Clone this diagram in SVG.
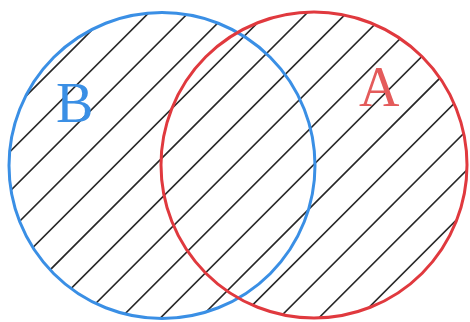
<svg xmlns="http://www.w3.org/2000/svg" width="470" height="322" viewBox="0 0 470 322">
  <style>
    .hatch line { stroke: #262626; stroke-width: 1.6; }
    .ring { fill: none; stroke-width: 3; }
    .label { font-family: "Liberation Serif", "Times New Roman", serif; font-size: 56px; }
  </style>
  <defs>
    <clipPath id="union">
      <circle cx="162" cy="165.5" r="153"/>
      <circle cx="314" cy="165" r="153"/>
    </clipPath>
  </defs>
  <rect width="470" height="322" fill="#ffffff"/>
  <g id="hatching" class="hatch" clip-path="url(#union)">
    <line x1="-10" y1="132" x2="480" y2="-358"/>
    <line x1="-10" y1="171.6" x2="480" y2="-318.4"/>
    <line x1="-10" y1="211.2" x2="480" y2="-278.8"/>
    <line x1="-10" y1="250.8" x2="480" y2="-239.2"/>
    <line x1="-10" y1="290.4" x2="480" y2="-199.6"/>
    <line x1="-10" y1="330" x2="480" y2="-160"/>
    <line x1="-10" y1="369.6" x2="480" y2="-120.4"/>
    <line x1="-10" y1="409.2" x2="480" y2="-80.8"/>
    <line x1="-10" y1="448.8" x2="480" y2="-41.2"/>
    <line x1="-10" y1="488.4" x2="480" y2="-1.6"/>
    <line x1="-10" y1="528" x2="480" y2="38"/>
    <line x1="-10" y1="567.6" x2="480" y2="77.6"/>
    <line x1="-10" y1="607.2" x2="480" y2="117.2"/>
    <line x1="-10" y1="646.8" x2="480" y2="156.8"/>
    <line x1="-10" y1="686.4" x2="480" y2="196.4"/>
  </g>
  <g id="setB">
    <circle class="ring" cx="162" cy="165.5" r="153" stroke="#3a8fe5"/>
    <text class="label" x="56" y="122" fill="#3a8fe5">B</text>
  </g>
  <g id="setA">
    <circle class="ring" cx="314" cy="165" r="153" stroke="#e0393e"/>
    <text class="label" x="359" y="106" fill="#e45b5b">A</text>
  </g>
</svg>
